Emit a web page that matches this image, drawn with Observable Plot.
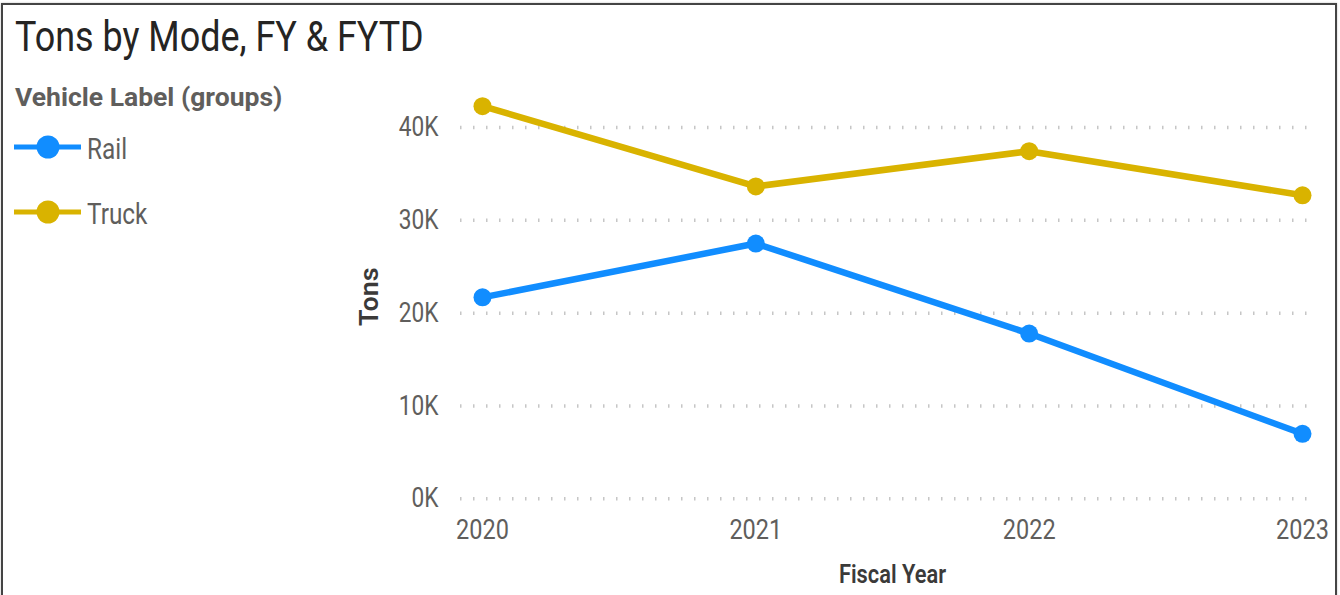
<!DOCTYPE html>
<html>
<head>
<meta charset="utf-8">
<script src="https://cdn.jsdelivr.net/npm/d3@7"></script>
<script src="https://cdn.jsdelivr.net/npm/@observablehq/plot@0.6"></script>
<style>
  html, body { margin: 0; padding: 0; background: #fff; }
  body { width: 1340px; height: 595px; position: relative; overflow: hidden; font-family: Roboto, "Noto Sans", sans-serif; }
  #frame { position: absolute; left: 1px; top: 3px; width: 1336px; height: 600px; box-sizing: border-box;
           border: 2px solid #444; border-bottom: none; box-shadow: 0 0 2px rgba(0,0,0,0.25); }
  .sq { position: absolute; white-space: nowrap; line-height: 1; transform: scaleX(0.84); transform-origin: 0 0; }
  #title { left: 15px; top: 15.5px; font-size: 42px; color: #252423; transform: scaleX(0.855); }
  #legendTitle { left: 15px; top: 84px; font-size: 26.5px; font-weight: 700; color: #605E5C; transform: scaleX(1.0); }
  .legLabel { font-size: 29px; color: #605E5C; }
  .legSwatch { position: absolute; left: 0; }
  #chart { position: absolute; left: 330px; top: 62px; }
</style>
</head>
<body>
<div id="frame"></div>
<div id="title" class="sq">Tons by Mode, FY &amp; FYTD</div>
<div id="legendTitle" class="sq">Vehicle Label (groups)</div>
<div id="legend"></div>
<div id="chart"></div>
<script>
// ---- data ----
const years = [2020, 2021, 2022, 2023];
const seriesNames = ["Rail", "Truck"];
const seriesColors = ["#118DFF", "#D9B300"];
const railTons = [21700, 27500, 17800, 7000];
const truckTons = [42300, 33650, 37450, 32700];
const yTicks = [0, 10000, 20000, 30000, 40000];
const legendRows = [147, 212];

const seriesValues = [railTons, truckTons];
const data = seriesNames.flatMap((name, s) =>
  years.map((yr, i) => ({ year: yr, tons: seriesValues[s][i], mode: name })));

// ---- legend ----
const legend = document.getElementById("legend");
seriesNames.forEach((name, i) => {
  const cy = legendRows[i];
  const sw = document.createElementNS("http://www.w3.org/2000/svg", "svg");
  sw.setAttribute("class", "legSwatch");
  sw.setAttribute("width", 90);
  sw.setAttribute("height", 30);
  sw.style.top = (cy - 15) + "px";
  sw.innerHTML = `<line x1="14" x2="81" y1="15" y2="15" stroke="${seriesColors[i]}" stroke-width="5"/>` +
                 `<circle cx="48" cy="15" r="11.5" fill="${seriesColors[i]}"/>`;
  legend.appendChild(sw);
  const lab = document.createElement("div");
  lab.className = "sq legLabel";
  lab.style.left = "87px";
  lab.style.top = (cy - 12.5) + "px";
  lab.textContent = name;
  legend.appendChild(lab);
});

// ---- chart ----
const W = 1000, H = 533;
const kFmt = d => (d / 1000) + "K";
const chart = Plot.plot({
  width: W,
  height: H,
  marginLeft: 130,
  marginRight: 14,
  marginTop: 65,
  marginBottom: 96.7,
  insetLeft: 22,
  insetRight: 14,
  style: { fontFamily: "Roboto, 'Noto Sans', sans-serif", background: "transparent", overflow: "visible" },
  x: { type: "linear", domain: [years[0], years[years.length - 1]] },
  y: { domain: [0, 40000] },
  color: { domain: seriesNames, range: seriesColors },
  marks: [
    Plot.gridY(yTicks, { stroke: "#c6c6c6", strokeOpacity: 1, strokeWidth: 3.5, strokeDasharray: "1.5,11.5" }),
    Plot.axisY({ ticks: yTicks, tickFormat: kFmt, tickSize: 0, tickPadding: 22, fontSize: 27, fill: "#605E5C", label: null }),
    Plot.axisX({ ticks: years, tickFormat: d => String(d), tickSize: 0, tickPadding: 20, fontSize: 28, fill: "#605E5C", label: null }),
    Plot.lineY(data, { x: "year", y: "tons", z: "mode", stroke: "mode", strokeWidth: 6.5 }),
    Plot.dot(data, { x: "year", y: "tons", fill: "mode", r: 9 }),
    Plot.text(["Tons"], { frameAnchor: "left", dx: -91, dy: 12.9, rotate: -90, fontSize: 25, fontWeight: 600, fill: "#3b3a39" }),
    Plot.text(["Fiscal Year"], { frameAnchor: "bottom", dx: 4, dy: 84.5, fontSize: 26, fontWeight: 600, fill: "#3b3a39" })
  ]
});

// horizontal squeeze of text to mimic the narrow DIN face
const SQ = 0.84;
d3.select(chart).selectAll("text").each(function () {
  const isTons = this.textContent === "Tons";
  const s = isTons ? "scale(1.08,1)" : `scale(${SQ},1)`;
  const t = this.getAttribute("transform");
  if (t) {
    this.setAttribute("transform", t + " " + s);
  } else {
    const x = +(this.getAttribute("x") || 0), y = +(this.getAttribute("y") || 0);
    this.setAttribute("transform", `translate(${x},${y}) ${s} translate(${-x},${-y})`);
  }
});

document.getElementById("chart").appendChild(chart);
</script>
</body>
</html>
